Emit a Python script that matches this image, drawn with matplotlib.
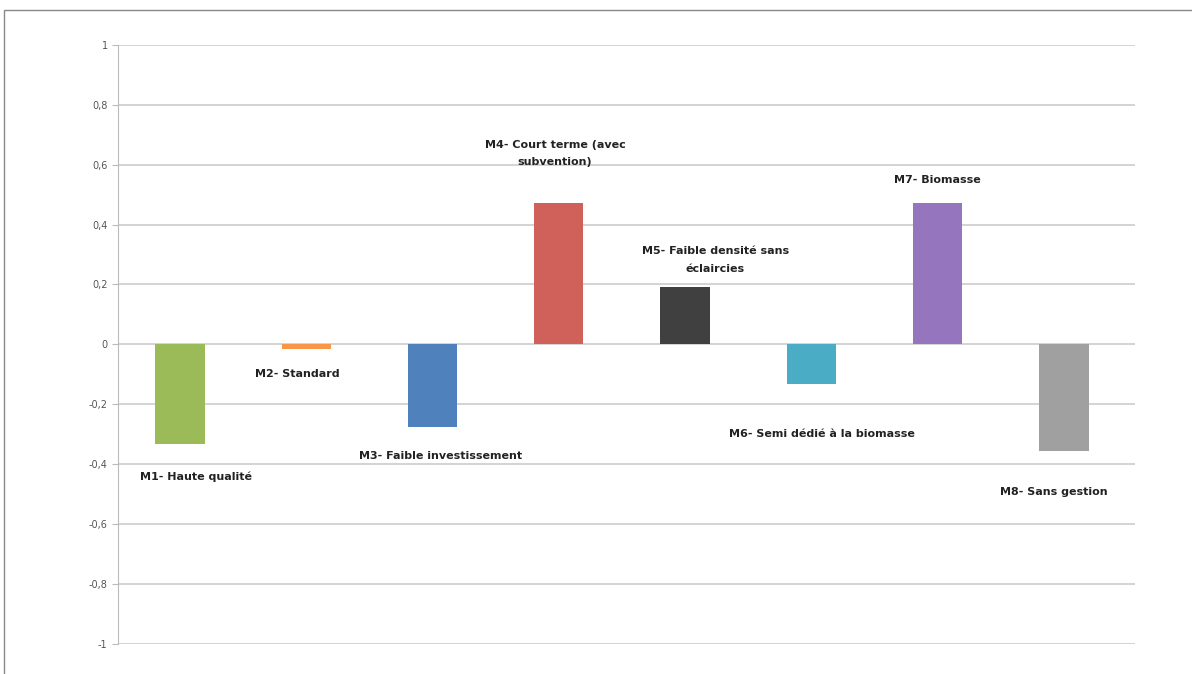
import matplotlib.pyplot as plt
from matplotlib.patches import Rectangle
from matplotlib.ticker import FuncFormatter

# one bar per management scenario
labels = ["M1- Haute qualité", "M2- Standard", "M3- Faible investissement",
          "M4- Court terme (avec\nsubvention)", "M5- Faible densité sans\néclaircies",
          "M6- Semi dédié à la biomasse", "M7- Biomasse", "M8- Sans gestion"]
values = [-0.333, -0.015, -0.277, 0.473, 0.19, -0.133, 0.473, -0.357]
colors = ["#9BBB59", "#F79646", "#4F81BD", "#D0605A",
          "#404040", "#4BACC6", "#9575BE", "#A0A0A0"]
yticks = [-1, -0.8, -0.6, -0.4, -0.2, 0, 0.2, 0.4, 0.6, 0.8, 1]

# label position (x offset in categories, y in data units)
label_pos = [(0.13, -0.443), (-0.07, -0.1), (0.06, -0.373), (-0.03, 0.637),
             (0.24, 0.282), (0.08, -0.3), (0.0, 0.55), (-0.08, -0.493)]

fig = plt.figure(figsize=(11.92, 6.74), dpi=100)
ax = fig.add_axes([0.099, 0.0445, 0.853, 0.889])

x = range(len(values))
ax.bar(x, values, width=0.39, color=colors, zorder=3)

for i, (dx, ly) in enumerate(label_pos):
    ax.text(i + dx, ly, labels[i], ha="center", va="center",
            fontsize=8, fontweight="bold", color="#222222",
            linespacing=1.9, zorder=4)

ax.set_xlim(-0.49, 7.56)
ax.set_ylim(-1, 1)
ax.set_yticks(yticks)
ax.yaxis.set_major_formatter(FuncFormatter(
    lambda v, p: ("%g" % round(v, 1)).replace(".", ",")))
ax.tick_params(axis="y", labelsize=7, colors="#555555", length=4, color="#BBBBBB")
ax.set_xticks([])
ax.grid(axis="y", color="#CCCCCC", linewidth=1.2, zorder=0)

for s in ["top", "right", "bottom"]:
    ax.spines[s].set_visible(False)
ax.spines["left"].set_color("#BBBBBB")

# outer frame of the picture
fig.patches.append(Rectangle((4 / 1192, -0.01), 1.2, 1 - 10 / 674 + 0.01,
                             transform=fig.transFigure, fill=False,
                             edgecolor="#888888", linewidth=1))

fig.savefig("out.png", dpi=100)
